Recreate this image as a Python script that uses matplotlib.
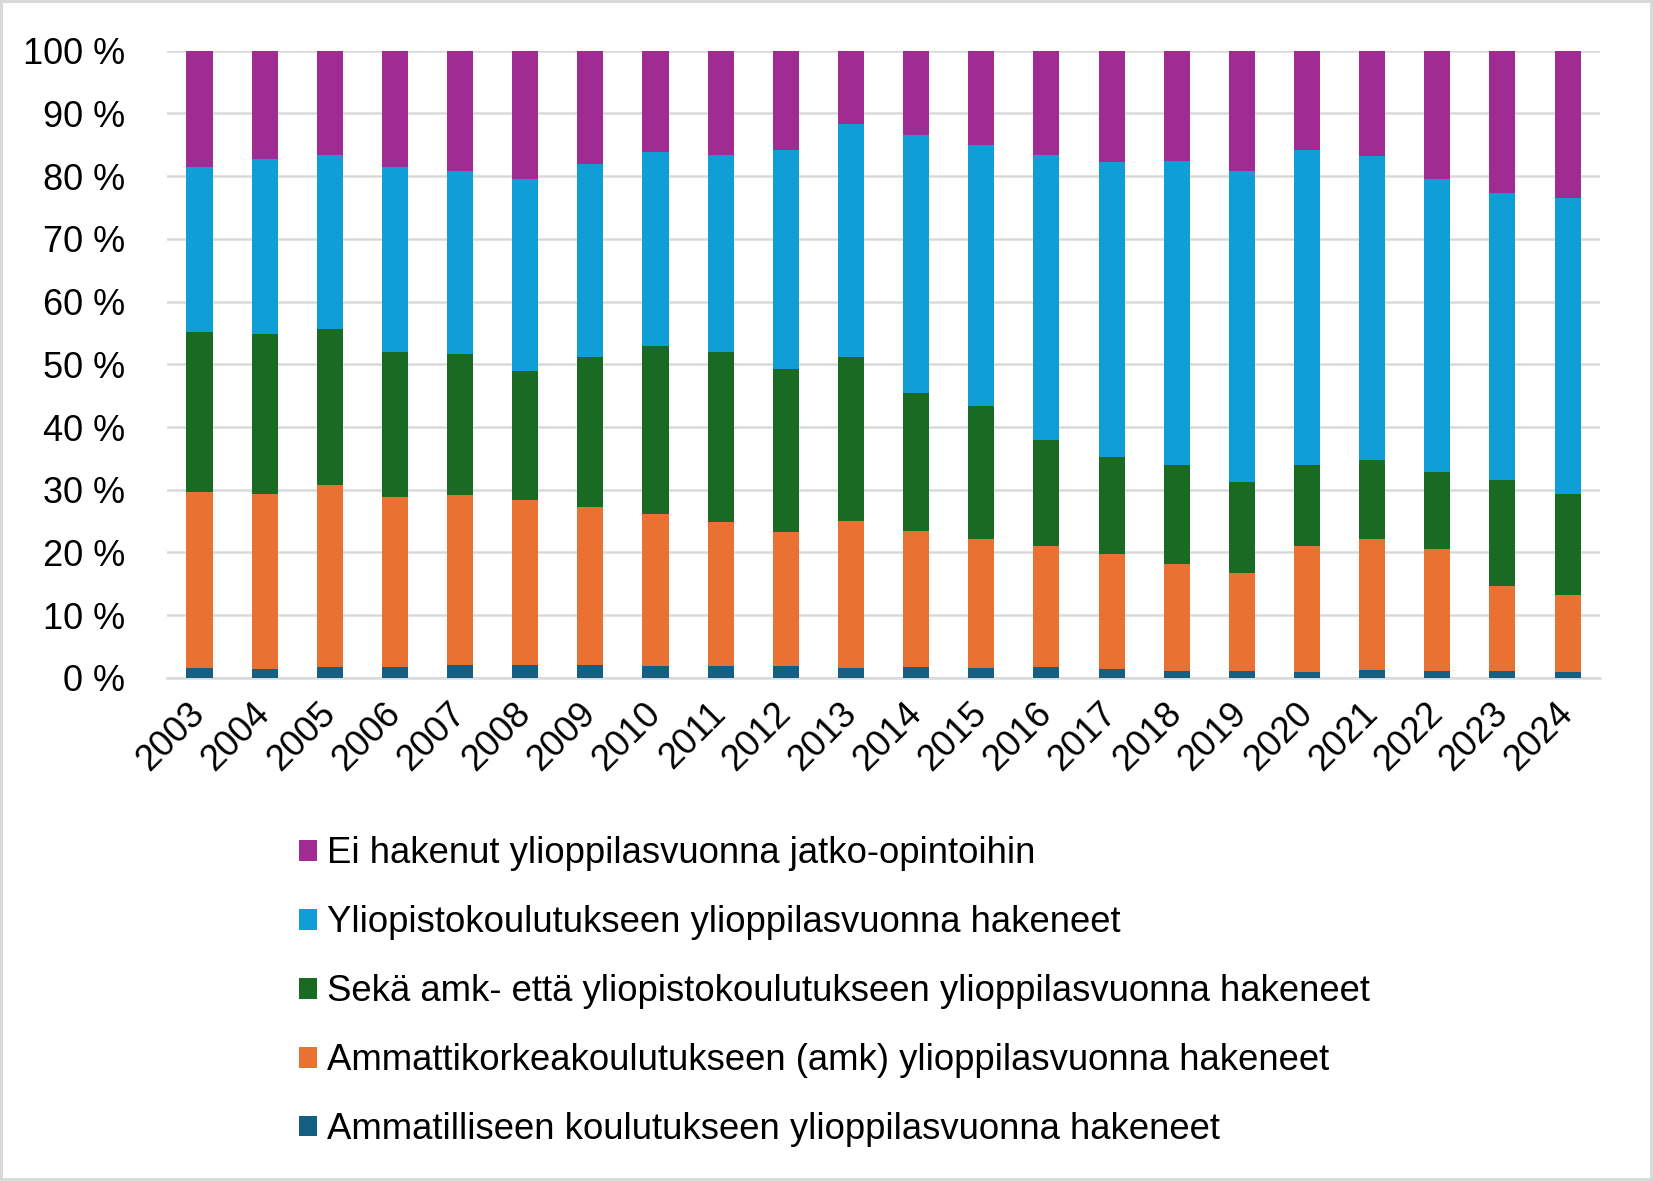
import numpy as np
import matplotlib
matplotlib.use("Agg")
import matplotlib.pyplot as plt
from matplotlib.ticker import FuncFormatter

plt.rcParams['font.family'] = ['Liberation Sans', 'DejaVu Sans']

years = [str(y) for y in range(2003, 2025)]

# osuudet (%) alhaalta ylös
ammatillinen = [1.6, 1.4, 1.8, 1.8, 2.1, 2.1, 2.1, 1.9, 1.9, 1.9, 1.6,
                1.8, 1.6, 1.8, 1.4, 1.1, 1.1, 1.0, 1.3, 1.1, 1.1, 1.0]
amk = [28.0, 28.0, 28.9, 27.1, 27.1, 26.2, 25.2, 24.3, 22.9, 21.3, 23.4,
       21.6, 20.6, 19.2, 18.4, 17.0, 15.7, 20.1, 20.9, 19.4, 13.6, 12.2]
molemmat = [25.5, 25.4, 25.0, 23.0, 22.5, 20.7, 23.9, 26.7, 27.1, 26.1, 26.2,
            22.0, 21.2, 16.9, 15.5, 15.9, 14.4, 12.8, 12.5, 12.3, 16.8, 16.2]
yliopisto = [26.3, 27.9, 27.7, 29.5, 29.1, 30.5, 30.8, 31.0, 31.5, 34.9, 37.2,
             41.1, 41.5, 45.5, 47.0, 48.5, 49.7, 50.2, 48.6, 46.8, 45.9, 47.2]
ei_hakenut = [18.6, 17.3, 16.6, 18.6, 19.2, 20.5, 18.0, 16.1, 16.6, 15.8, 11.6,
              13.5, 15.1, 16.6, 17.7, 17.5, 19.1, 15.9, 16.7, 20.4, 22.6, 23.4]

labels = ['Ammatilliseen koulutukseen ylioppilasvuonna hakeneet',
          'Ammattikorkeakoulutukseen (amk) ylioppilasvuonna hakeneet',
          'Sekä amk- että yliopistokoulutukseen ylioppilasvuonna hakeneet',
          'Yliopistokoulutukseen ylioppilasvuonna hakeneet',
          'Ei hakenut ylioppilasvuonna jatko-opintoihin']
colors = ['#156082', '#E97132', '#196B24', '#0F9ED5', '#A02B93']


def plot_stacked(ax, series):
    x = np.arange(len(years))
    bottom = np.zeros(len(years))
    handles = []
    for vals, lab, col in zip(series, labels, colors):
        h = ax.bar(x, vals, width=0.4, bottom=bottom, color=col, label=lab, zorder=3)
        bottom += np.asarray(vals)
        handles.append(h)
    return handles


def main():
    fig = plt.figure(figsize=(16.53, 11.81), dpi=100, edgecolor='#d9d9d9', linewidth=3)
    ax = fig.add_axes([0.101, 0.426, 0.867, 0.531])

    handles = plot_stacked(ax, [ammatillinen, amk, molemmat, yliopisto, ei_hakenut])

    ax.set_xlim(-0.5, len(years) - 0.5)
    ax.set_ylim(0, 100)
    ax.set_yticks(range(0, 101, 10))
    ax.yaxis.set_major_formatter(FuncFormatter(lambda v, p: f'{int(v)} %'))
    ax.grid(axis='y', color='#d9d9d9', linewidth=1.8, zorder=0)
    for s in ['top', 'right', 'left']:
        ax.spines[s].set_visible(False)
    ax.spines['bottom'].set_color('#d9d9d9')
    ax.spines['bottom'].set_linewidth(1.8)
    ax.tick_params(axis='both', length=0, labelsize=26)
    ax.tick_params(axis='y', pad=30)
    ax.set_xticks(np.arange(len(years)))
    ax.set_xticklabels(years, rotation=45, ha='right', rotation_mode='anchor', va='center')
    ax.tick_params(axis='x', pad=22)

    fig.legend(handles[::-1], labels[::-1], loc='upper left',
               bbox_to_anchor=(0.181, 0.292), frameon=False, fontsize=26.3,
               handlelength=0.5, handleheight=0.5, handletextpad=0.25,
               labelspacing=0.93, borderaxespad=0, borderpad=0)

    fig.savefig('out.png', dpi=100)


if __name__ == "__main__":
    main()
